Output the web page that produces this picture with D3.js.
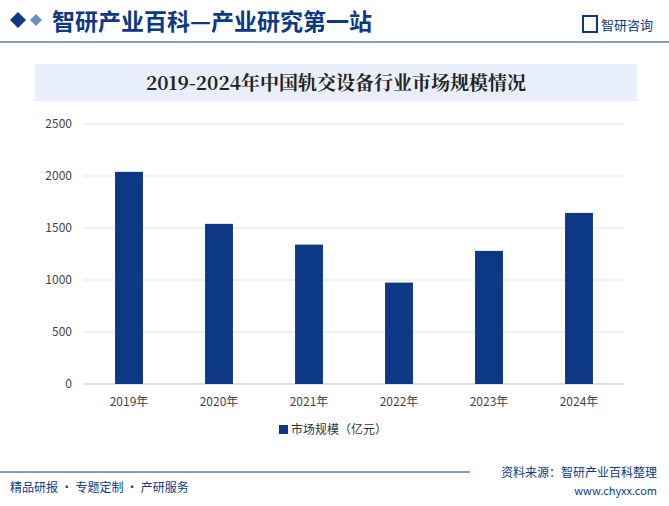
<!DOCTYPE html>
<html><head><meta charset="utf-8">
<script src="https://cdn.jsdelivr.net/npm/d3@7/dist/d3.min.js"></script>
<style>body{margin:0;background:#fff;}svg{display:block;font-family:"Noto Sans CJK SC","Noto Sans",sans-serif;}</style>
</head><body><svg id="c" width="669" height="506"></svg>
<script>
const categories=["2019年","2020年","2021年","2022年","2023年","2024年"];
const values=[2040,1540,1340,975,1280,1645];
const yTicks=[0,500,1000,1500,2000,2500];
const seriesName="市场规模（亿元）";
const svg=d3.select("#c");
const blue="#0d3886";
// header
svg.append("path").attr("d","M10,20 L18,12 L26,20 L18,28 Z").attr("fill",blue);
svg.append("path").attr("d","M30,20 L36,14 L42,20 L36,26 Z").attr("fill","#6f8fc9");
svg.append("text").attr("x",52).attr("y",30).attr("font-size",23).attr("font-weight","bold").attr("fill",blue).text("智研产业百科—产业研究第一站");
svg.append("rect").attr("x",583).attr("y",16).attr("width",14).attr("height",16).attr("fill","none").attr("stroke",blue).attr("stroke-width",2);
svg.append("text").attr("x",601).attr("y",30).attr("font-size",13).attr("fill",blue).text("智研咨询");
svg.append("line").attr("x1",0).attr("x2",669).attr("y1",42).attr("y2",42).attr("stroke",blue).attr("stroke-width",1);
// title box
svg.append("rect").attr("x",35).attr("y",64).attr("width",602).attr("height",37).attr("fill","#e8eefa");
svg.append("text").attr("x",336).attr("y",90).attr("text-anchor","middle").attr("font-size",19).attr("font-weight","bold").attr("font-family","'Noto Serif CJK SC','Noto Sans CJK SC',serif").attr("fill","#222").text("2019-2024年中国轨交设备行业市场规模情况");
// chart
const x=d3.scaleBand().domain(categories).range([84,624]).paddingInner(0.69).paddingOuter(0.345);
const y=d3.scaleLinear().domain([0,2500]).range([384,124]);
const g=svg.append("g");
g.selectAll(".gl").data(yTicks).join("line").attr("x1",84).attr("x2",624).attr("y1",d=>y(d)).attr("y2",d=>y(d)).attr("stroke",d=>d===0?"#bbb":"#e0e0e0");
g.selectAll(".yt").data(yTicks).join("text").attr("x",72).attr("y",d=>y(d)+4).attr("text-anchor","end").attr("font-size",12).attr("fill","#444").text(d=>d);
g.selectAll(".b").data(values).join("rect").attr("x",(d,i)=>x(categories[i])).attr("width",x.bandwidth()).attr("y",d=>y(d)).attr("height",d=>y(0)-y(d)).attr("fill",blue);
g.selectAll(".xt").data(categories).join("text").attr("x",d=>x(d)+x.bandwidth()/2).attr("y",406).attr("text-anchor","middle").attr("font-size",12).attr("fill","#444").text(d=>d);
// legend
svg.append("rect").attr("x",279).attr("y",425).attr("width",9).attr("height",9).attr("fill",blue);
svg.append("text").attr("x",291).attr("y",434).attr("font-size",12).attr("fill","#333").text(seriesName);
// footer
svg.append("line").attr("x1",0).attr("x2",470).attr("y1",472).attr("y2",472).attr("stroke",blue);
svg.append("text").attr("x",10).attr("y",492).attr("font-size",12).attr("fill",blue).text("精品研报 · 专题定制 · 产研服务");
svg.append("text").attr("x",657).attr("y",477).attr("text-anchor","end").attr("font-size",12).attr("fill",blue).text("资料来源：智研产业百科整理");
svg.append("text").attr("x",657).attr("y",495).attr("text-anchor","end").attr("font-size",11).attr("fill",blue).text("www.chyxx.com");
</script></body></html>
